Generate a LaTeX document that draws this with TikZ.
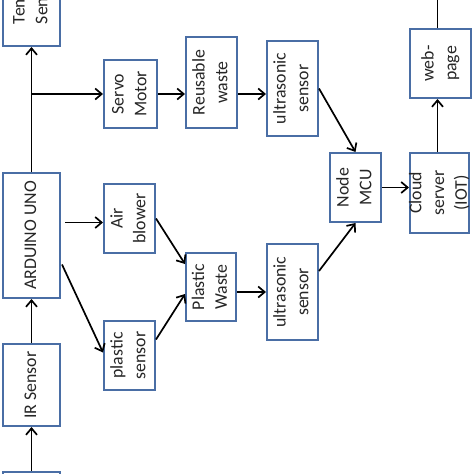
\documentclass[tikz,border=0pt]{standalone}
\usepackage{fontspec}
\setmainfont{Carlito}
\usetikzlibrary{arrows.meta}
\definecolor{boxblue}{HTML}{4A6EA5}
\definecolor{textgray}{HTML}{262626}
\newcommand{\vtext}[2][c]{\makebox[0pt]{\rotatebox{90}{\begin{tabular}{@{}#1@{}}#2\end{tabular}}}}
\tikzset{
  box/.style={draw=boxblue, line width=2pt, fill=white, inner sep=0pt, text=textgray,
    font=\fontsize{17.8}{22.8}\selectfont},
  arr/.style={line width=1.7pt, draw=black, -{Straight Barb[length=6.5pt,width=11pt,line width=1.7pt]}},
  plain/.style={line width=1.7pt, draw=black},
}
\begin{document}
\begin{tikzpicture}[x=1pt,y=-1pt]
\useasboundingbox (0,0) rectangle (474,474);
\clip (0,0) rectangle (474,474);
% left column
\node[box, minimum width=57pt, minimum height=74pt] (temp) at (31.5,9) {\vtext[l]{Tem\\Sen}};
\node[box, minimum width=57pt, minimum height=125pt] (ard) at (31.5,235.5) {\vtext{ARDUINO UNO}};
\node[box, minimum width=57pt, minimum height=82pt] (ir) at (31.5,385) {\vtext{IR Sensor}};
\node[box, minimum width=57pt, minimum height=68pt] (bot) at (31.5,506) {};
% second column
\node[box, minimum width=53pt, minimum height=68pt] (servo) at (130.5,94) {\vtext{Servo\\Motor}};
\node[box, minimum width=51pt, minimum height=69pt] (air) at (129.5,218.5) {\vtext{Air\\blower}};
\node[box, minimum width=51pt, minimum height=69pt] (plsen) at (129.5,355.5) {\vtext{plastic\\sensor}};
% third column
\node[box, minimum width=51pt, minimum height=91pt] (reuse) at (211.5,82.5) {\vtext{Reusable\\waste}};
\node[box, minimum width=50pt, minimum height=68pt] (plwaste) at (211,287) {\vtext{Plastic\\Waste}};
% fourth column
\node[box, minimum width=51pt, minimum height=95pt] (us1) at (292.5,88.5) {\vtext{ultrasonic\\sensor}};
\node[box, minimum width=51pt, minimum height=96pt] (us2) at (292.5,292) {\vtext{ultrasonic\\sensor}};
% right
\node[box, minimum width=51pt, minimum height=69pt] (mcu) at (355.5,187.5) {\vtext{Node\\MCU}};
\node[box, minimum width=59pt, minimum height=80pt] (cloud) at (439.5,193) {\vtext{Cloud\\server\\(IOT)}};
\node[box, minimum width=61pt, minimum height=69pt] (web) at (440.5,63.5) {\vtext{web-\\page}};
% connectors
\coordinate (j) at (ard.north |- servo.west);
\coordinate (webtop) at ([xshift=-3pt]web.north |- 0,-10);
\draw[arr] (bot.north) -- (ir.south);
\draw[arr] (ir.north) -- (ard.south);
\draw[arr] (ard.north) -- (temp.south);
\draw[arr] (j) -- (servo.west);
\draw[arr] (servo.east) -- (servo.east -| reuse.west);
\draw[arr] (servo.east -| reuse.east) -- (servo.east -| us1.west);
\draw[arr] (us1.east) -- (mcu.north);
\draw[arr] ([yshift=21pt]us2.east) -- (mcu.south);
\draw[arr] (mcu.east) -- (mcu.east -| cloud.west);
\draw[arr] ([xshift=-2pt]cloud.north) -- ([xshift=-2pt]cloud.north |- web.south);
\draw[plain] ([xshift=-3pt]web.north) -- (webtop);
\draw[arr] ([xshift=4pt,yshift=-4pt]ard.east |- air.west) -- ([yshift=-4pt]air.west);
\draw[arr] ([xshift=1pt,yshift=-29pt]ard.east) -- ([yshift=3pt]plsen.west);
\draw[arr] (air.east) -- ([yshift=23pt]plwaste.west);
\draw[arr] ([yshift=16pt]plsen.east) -- ([yshift=-7pt]plwaste.west);
\draw[arr] (us2.west -| plwaste.east) -- (us2.west);
\end{tikzpicture}
\end{document}
